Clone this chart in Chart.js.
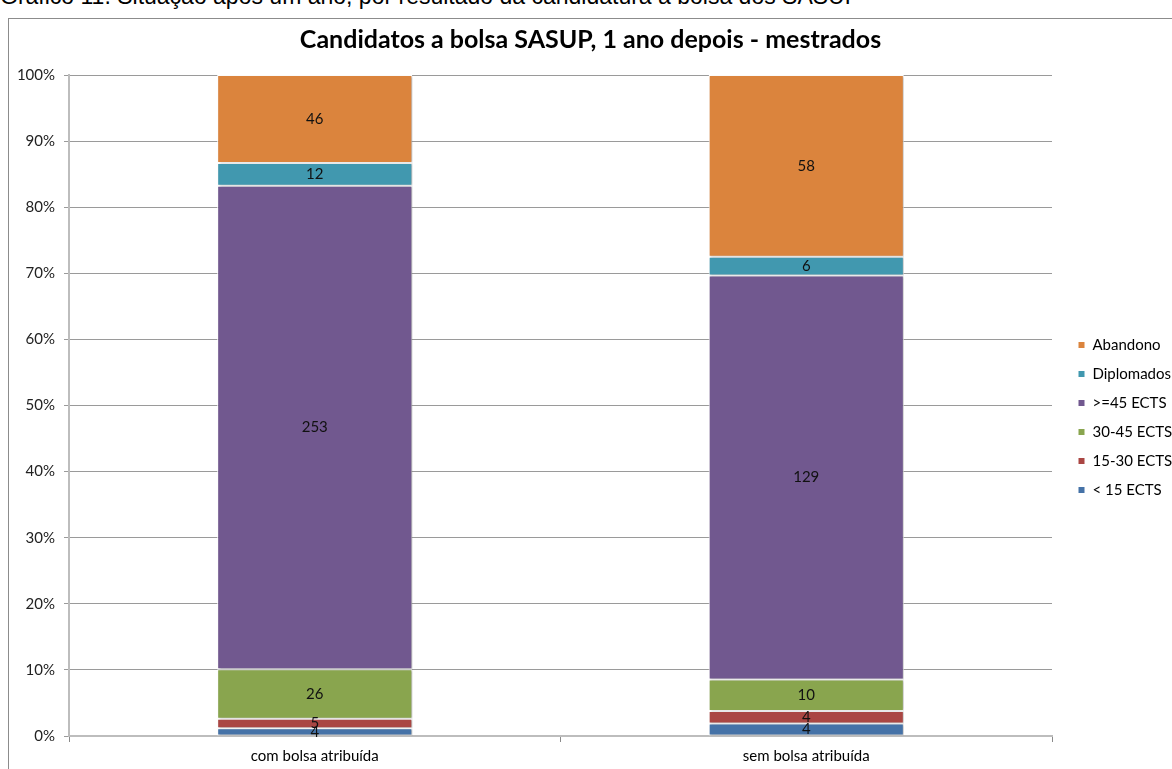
<!DOCTYPE html>
<html>
<head>
<meta charset="utf-8">
<script src="https://cdn.jsdelivr.net/npm/chart.js@4.4.0/dist/chart.umd.min.js"></script>
<style>
body { margin: 0; background: #fff; width: 1172px; height: 769px; overflow: hidden; position: relative; }
#legenda { position: absolute; left: 0; top: -15px; font-family: "Liberation Sans", Arial, sans-serif; font-size: 23px; line-height: 23px; white-space: nowrap; color: #000; }
#moldura { position: absolute; left: 8px; top: 18px; width: 1164px; height: 751px; border-left: 1px solid #8c8c8c; border-top: 1px solid #8c8c8c; box-sizing: border-box; }
#caixa { position: absolute; left: 0; top: 0; width: 1163px; height: 750px; }
</style>
</head>
<body>
<div id="legenda">Gráfico 11. Situação após um ano, por resultado da candidatura à bolsa dos SASUP</div>
<div id="moldura"><div id="caixa"><canvas id="grafico"></canvas></div></div>
<script>
// dados (número de estudantes)
const categorias = ['com bolsa atribuída', 'sem bolsa atribuída'];
const menos15 = [4, 4];
const de15a30 = [5, 4];
const de30a45 = [26, 10];
const mais45 = [253, 129];
const diplomados = [12, 6];
const abandono = [46, 58];

const series = [
  { nome: '< 15 ECTS', valores: menos15, cor: '#4572A7' },
  { nome: '15-30 ECTS', valores: de15a30, cor: '#AA4643' },
  { nome: '30-45 ECTS', valores: de30a45, cor: '#89A54E' },
  { nome: '>=45 ECTS', valores: mais45, cor: '#71588F' },
  { nome: 'Diplomados', valores: diplomados, cor: '#4198AF' },
  { nome: 'Abandono', valores: abandono, cor: '#DB843D' }
];

// totais por categoria para empilhar a 100%
const totais = categorias.map((c, j) => series.reduce((s, serie) => s + serie.valores[j], 0));

const fonte = 'Lato, "Open Sans", sans-serif';

const rotulos = {
  id: 'rotulos',
  beforeDatasetsDraw(chart) {
    // sombra leve das colunas, como no excel
    const ctx = chart.ctx;
    ctx.save();
    ctx.shadowColor = 'rgba(0,0,0,0.28)';
    ctx.shadowOffsetX = 1.5;
    ctx.shadowOffsetY = 0.5;
    ctx.shadowBlur = 2;
  },
  afterDatasetsDraw(chart) {
    const ctx = chart.ctx;
    ctx.restore();
    ctx.save();
    ctx.font = '15px ' + fonte;
    ctx.fillStyle = '#111';
    ctx.textAlign = 'center';
    ctx.textBaseline = 'middle';
    chart.data.datasets.forEach((ds, i) => {
      chart.getDatasetMeta(i).data.forEach((barra, j) => {
        const p = barra.getProps(['x', 'y', 'base'], true);
        ctx.fillText(ds.contagens[j], p.x, (p.y + p.base) / 2);
      });
    });
    ctx.restore();
  }
};

const ajusteLegenda = {
  id: 'ajusteLegenda',
  beforeInit(chart) {
    const fitOriginal = chart.legend.fit;
    chart.legend.fit = function () {
      fitOriginal.bind(chart.legend)();
      this.width = 120;
    };
  },
  afterLayout(chart) {
    const l = chart.legend;
    l.left += 12; l.right += 12;
    l.top += 12; l.bottom += 12;
  }
};

const ctx = document.getElementById('grafico');
new Chart(ctx, {
  type: 'bar',
  data: {
    labels: categorias,
    datasets: series.map(s => ({
      label: s.nome,
      data: s.valores.map((v, j) => v / totais[j] * 100),
      contagens: s.valores,
      backgroundColor: s.cor,
      borderColor: '#ffffff',
      borderWidth: 1,
      borderSkipped: false,
      barPercentage: 0.397,
      categoryPercentage: 1
    }))
  },
  options: {
    responsive: true,
    maintainAspectRatio: false,
    animation: false,
    layout: { padding: { left: 0, right: 0, top: 0, bottom: 0 } },
    plugins: {
      tooltip: { enabled: false },
      title: {
        display: true,
        text: 'Candidatos a bolsa SASUP, 1 ano depois - mestrados',
        color: '#000',
        font: { family: fonte, size: 25, weight: 'bold' },
        padding: { top: 6, bottom: 20 }
      },
      legend: {
        display: true,
        position: 'right',
        fullSize: false,
        reverse: true,
        labels: {
          boxWidth: 7,
          boxHeight: 7,
          padding: 14,
          color: '#000',
          font: { family: fonte, size: 15 }
        }
      }
    },
    scales: {
      x: {
        stacked: true,
        afterFit: s => { s.height = 33; },
        grid: { display: true, drawOnChartArea: false, drawTicks: true, offset: true, tickLength: 6, color: '#8a8a8a' },
        border: { color: '#bdbdbd', width: 2 },
        ticks: { color: '#000', padding: 5, font: { family: fonte, size: 15 } }
      },
      y: {
        stacked: true,
        min: 0,
        max: 100,
        afterFit: s => { s.width = 60; },
        grid: { color: '#9a9a9a', tickLength: 5 },
        border: { color: '#bdbdbd', width: 2 },
        ticks: { stepSize: 10, color: '#222', padding: 9, font: { family: fonte, size: 15 }, callback: v => v + '%' }
      }
    }
  },
  plugins: [rotulos, ajusteLegenda]
});
</script>
</body>
</html>
